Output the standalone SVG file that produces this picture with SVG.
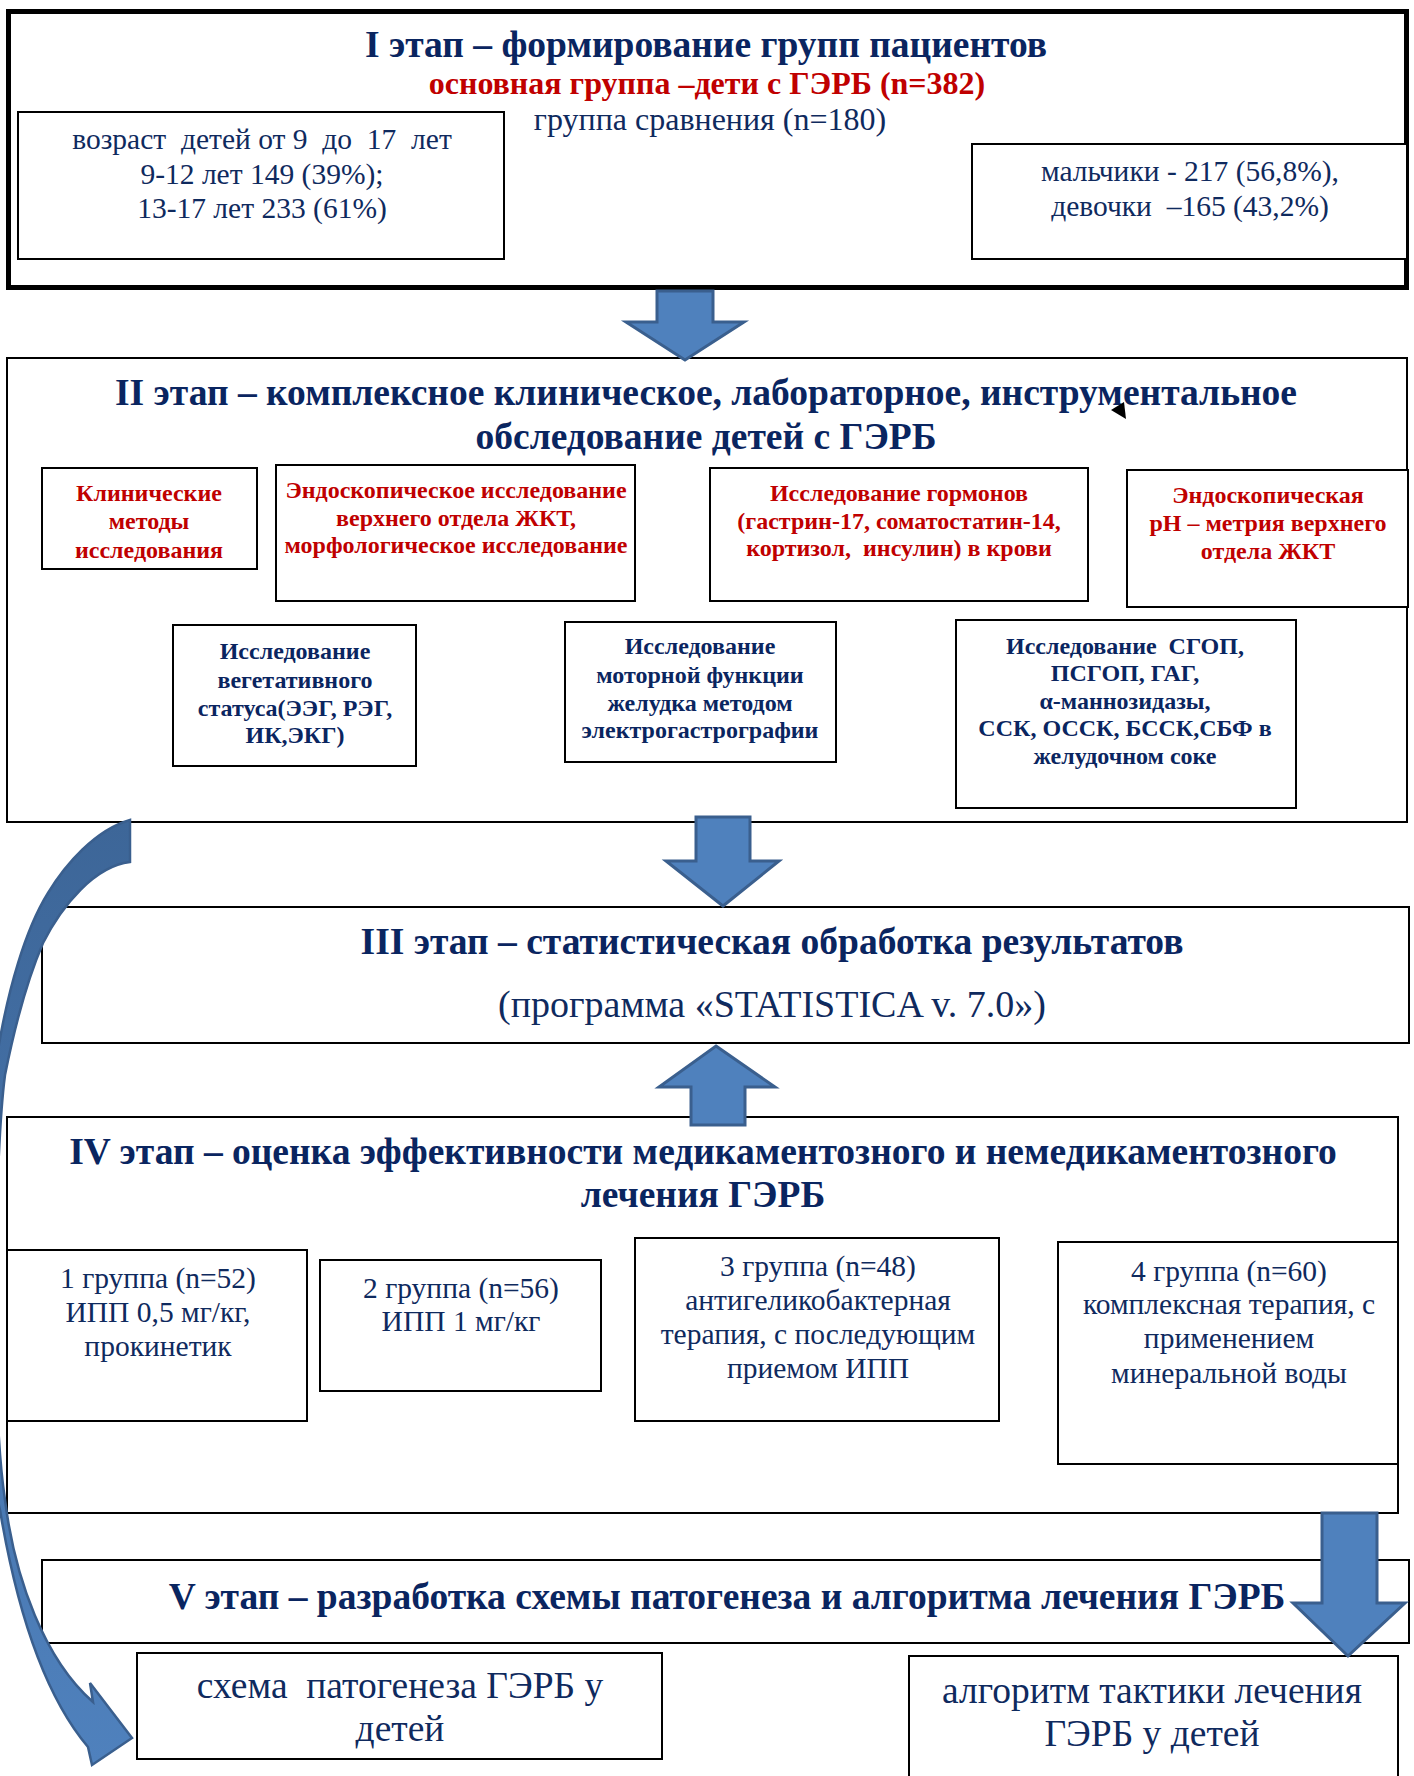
<svg xmlns="http://www.w3.org/2000/svg" width="1414" height="1776" viewBox="0 0 1414 1776">
<style>
text{font-family:"Liberation Serif","Times New Roman",serif;text-anchor:middle;fill:#0f2a5e}
.h{font-weight:bold;font-size:37.5px;fill:#0a2560}
.red{font-weight:bold;font-size:32px;fill:#c00000}
.r27{font-size:32px}
.r25{font-size:29.5px}
.sr{font-weight:bold;font-size:24px;fill:#c00000}
.sb{font-weight:bold;font-size:24px;fill:#0a2560}
.g{font-size:29.5px}
.p32{font-size:38px}
.p31{font-size:37.5px}
.box{fill:#fff;stroke:#000;stroke-width:2}
.arr{fill:#4f81bd;stroke:#3a5f8e;stroke-width:3;stroke-linejoin:miter}
</style>
<defs>
<linearGradient id="cg" gradientUnits="userSpaceOnUse" x1="0" y1="820" x2="0" y2="1765">
<stop offset="0" stop-color="#3d6698"/>
<stop offset="1" stop-color="#4f81bd"/>
</linearGradient>
</defs>
<rect width="1414" height="1776" fill="#fff"/>

<g id="stage1">
<rect x="8.5" y="11.5" width="1398" height="276" fill="#fff" stroke="#000" stroke-width="5"/>
<text class="h" x="706" y="57">I этап – формирование групп пациентов</text>
<text class="red" x="707" y="94">основная группа –дети с ГЭРБ (n=382)</text>
<text class="r27" x="710" y="130">группа сравнения (n=180)</text>
</g>
<g id="age">
<rect class="box" x="18" y="112" width="486" height="147"/>
<text class="r25" x="262" y="149" xml:space="preserve">возраст  детей от 9  до  17  лет</text>
<text class="r25" x="262" y="184">9-12 лет 149 (39%);</text>
<text class="r25" x="262" y="218">13-17 лет 233 (61%)</text>
</g>
<g id="sex">
<rect class="box" x="972" y="144" width="435" height="115"/>
<text class="r25" x="1190" y="181">мальчики - 217 (56,8%),</text>
<text class="r25" x="1190" y="216" xml:space="preserve">девочки  –165 (43,2%)</text>
</g>

<g id="stage2">
<rect class="box" x="7" y="358" width="1400" height="464"/>
<text class="h" x="706" y="405">II этап – комплексное клиническое, лабораторное, инструментальное</text>
<text class="h" x="706" y="449">обследование детей с ГЭРБ</text>
</g>
<g id="clin">
<rect class="box" x="42" y="468" width="215" height="101"/>
<text class="sr" x="149" y="501">Клинические</text>
<text class="sr" x="149" y="529">методы</text>
<text class="sr" x="149" y="558">исследования</text>
</g>
<g id="endo">
<rect class="box" x="276" y="465" width="359" height="136"/>
<text class="sr" x="456" y="498">Эндоскопическое исследование</text>
<text class="sr" x="456" y="526">верхнего отдела ЖКТ,</text>
<text class="sr" x="456" y="553">морфологическое исследование</text>
</g>
<g id="horm">
<rect class="box" x="710" y="468" width="378" height="133"/>
<text class="sr" x="899" y="501">Исследование гормонов</text>
<text class="sr" x="899" y="529">(гастрин-17, соматостатин-14,</text>
<text class="sr" x="899" y="556" xml:space="preserve">кортизол,  инсулин) в крови</text>
</g>
<g id="ph">
<rect class="box" x="1127" y="470" width="281" height="137"/>
<text class="sr" x="1268" y="503">Эндоскопическая</text>
<text class="sr" x="1268" y="531">pH – метрия верхнего</text>
<text class="sr" x="1268" y="559">отдела ЖКТ</text>
</g>
<g id="veg">
<rect class="box" x="173" y="625" width="243" height="141"/>
<text class="sb" x="295" y="659">Исследование</text>
<text class="sb" x="295" y="688">вегетативного</text>
<text class="sb" x="295" y="716">статуса(ЭЭГ, РЭГ,</text>
<text class="sb" x="295" y="743">ИК,ЭКГ)</text>
</g>
<g id="motor">
<rect class="box" x="565" y="622" width="271" height="140"/>
<text class="sb" x="700" y="654">Исследование</text>
<text class="sb" x="700" y="683">моторной функции</text>
<text class="sb" x="700" y="711">желудка методом</text>
<text class="sb" x="700" y="738">электрогастрографии</text>
</g>
<g id="sgop">
<rect class="box" x="956" y="620" width="340" height="188"/>
<text class="sb" x="1125" y="654" xml:space="preserve">Исследование  СГОП,</text>
<text class="sb" x="1125" y="681">ПСГОП, ГАГ,</text>
<text class="sb" x="1125" y="709">α-маннозидазы,</text>
<text class="sb" x="1125" y="736">ССК, ОССК, БССК,СБФ в</text>
<text class="sb" x="1125" y="764">желудочном соке</text>
</g>

<g id="stage3">
<rect class="box" x="42" y="907" width="1367" height="136"/>
<text class="h" x="772" y="954">III этап – статистическая обработка результатов</text>
<text class="p32" x="772" y="1017">(программа «STATISTICA v. 7.0»)</text>
</g>

<g id="stage4">
<rect class="box" x="7" y="1117" width="1391" height="396"/>
<text class="h" x="703" y="1164">IV этап – оценка эффективности медикаментозного и немедикаментозного</text>
<text class="h" x="703" y="1207">лечения ГЭРБ</text>
</g>
<g id="grp1">
<rect class="box" x="7" y="1250" width="300" height="171"/>
<text class="g" x="158" y="1288">1 группа (n=52)</text>
<text class="g" x="158" y="1322">ИПП 0,5 мг/кг,</text>
<text class="g" x="158" y="1356">прокинетик</text>
</g>
<g id="grp2">
<rect class="box" x="320" y="1260" width="281" height="131"/>
<text class="g" x="461" y="1298">2 группа (n=56)</text>
<text class="g" x="461" y="1331">ИПП 1 мг/кг</text>
</g>
<g id="grp3">
<rect class="box" x="635" y="1238" width="364" height="183"/>
<text class="g" x="818" y="1276">3 группа (n=48)</text>
<text class="g" x="818" y="1310">антигеликобактерная</text>
<text class="g" x="818" y="1344">терапия, с последующим</text>
<text class="g" x="818" y="1378">приемом ИПП</text>
</g>
<g id="grp4">
<rect class="box" x="1058" y="1242" width="340" height="222"/>
<text class="g" x="1229" y="1281">4 группа (n=60)</text>
<text class="g" x="1229" y="1314">комплексная терапия, с</text>
<text class="g" x="1229" y="1348">применением</text>
<text class="g" x="1229" y="1383">минеральной воды</text>
</g>

<g id="stage5">
<rect class="box" x="42" y="1560" width="1367" height="83"/>
<text class="h" x="727" y="1609">V этап – разработка схемы патогенеза и алгоритма лечения ГЭРБ</text>
</g>
<g id="scheme">
<rect class="box" x="137" y="1653" width="525" height="106"/>
<text class="p31" x="400" y="1698" xml:space="preserve">схема  патогенеза ГЭРБ у</text>
<text class="p31" x="400" y="1741">детей</text>
</g>
<g id="algo">
<rect class="box" x="909" y="1656" width="489" height="140"/>
<text class="p31" x="1152" y="1703">алгоритм тактики лечения</text>
<text class="p31" x="1152" y="1746">ГЭРБ у детей</text>
</g>

<g id="connectors">
<polygon class="arr" points="657,291 713,291 713,322 744,322 685,360 626,322 657,322"/>
<polygon class="arr" points="696,817 750,817 750,861 779,861 723,906 666,861 696,861"/>
<polygon class="arr" points="716,1046 775,1087 745,1087 745,1125 691,1125 691,1087 659,1087"/>
<polygon class="arr" points="1322,1513 1377,1513 1377,1603 1405,1603 1348,1656 1293,1603 1322,1603"/>
<path fill="url(#cg)" stroke="#3a5f8e" stroke-width="2.5" stroke-linejoin="miter" d="M130,820 L130,862 C95,866 62,905 43,943 C25,985 12,1040 5,1075 C-5,1150 -10,1400 5,1500 C15,1580 45,1660 93,1702 L90,1683 L132,1738 L92,1765 L88,1747 C40,1690 15,1600 0,1510 C-25,1400 -25,1150 -2,1050 C8,990 25,930 48,893 C65,865 95,830 130,820 Z"/>
<polygon points="1111,410 1124,402 1126,419" fill="#000"/>
</g>
</svg>
